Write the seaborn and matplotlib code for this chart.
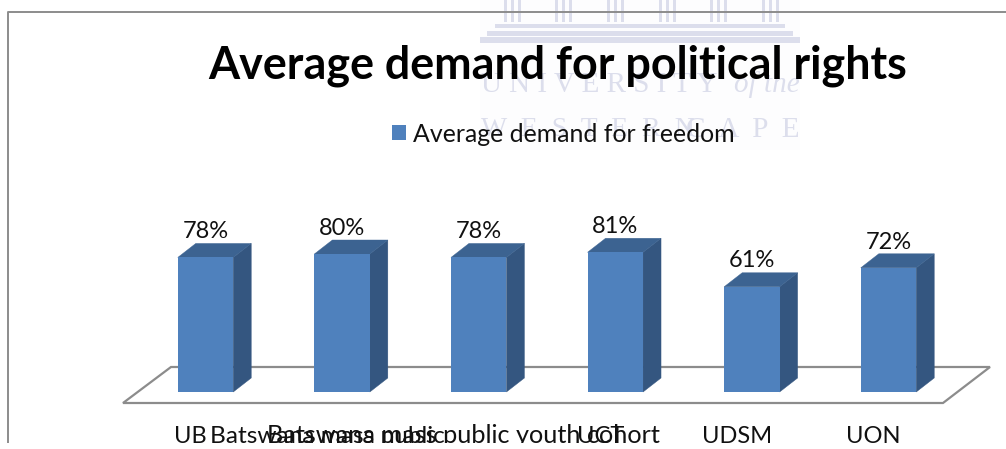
import matplotlib
matplotlib.use("Agg")
import matplotlib.pyplot as plt
import seaborn as sns
from matplotlib.patches import Polygon, Rectangle
from matplotlib.lines import Line2D
from matplotlib.transforms import Affine2D, IdentityTransform, ScaledTranslation

categories = ["UB", "Batswana mass public", "Batswana mass public youth cohort", "UCT", "UDSM", "UON"]
values = [78, 80, 78, 81, 61, 72]
series_name = "Average demand for freedom"
title_text = "Average demand for political rights"

W, H = 1006, 449
FRONT, SIDE, TOP = "#4f81bd", "#345680", "#3c6391"
GRID = "#8c8c8c"
WM = "#dcdeec"
TICK_SIZES = [17, 17.6, 18.2, 17, 17, 17]

sns.set_theme(style="white")
plt.rcParams["font.family"] = ["Lato", "DejaVu Sans"]

fig = plt.figure(figsize=(W / 100, H / 100), dpi=100, facecolor="white")
px = Affine2D().scale(1, -1).translate(0, H)

# axes: left edge px 8, right px 1006, baseline px 392, top px 12
ax = fig.add_axes([8 / W, (H - 392) / H, (W - 8) / W, 380 / H], facecolor="none")
ax.set_zorder(3)

# watermark
fig.add_artist(Rectangle((480, 0), 320, 150, transform=px, fc="#fdfdfe", ec="none", zorder=0))
for cx in [512, 563, 615, 667, 718, 770]:
    for d in (-7, 0, 7):
        fig.add_artist(Rectangle((cx + d - 1.5, 0), 3, 22, transform=px, fc=WM, ec="none", zorder=0.1))
for x0, x1, y0, y1 in [(495, 785, 24, 28), (487, 793, 31, 36), (480, 800, 37, 43)]:
    fig.add_artist(Rectangle((x0, y0), x1 - x0, y1 - y0, transform=px, fc=WM, ec="none", zorder=0.1))
serif = dict(transform=px, family="Liberation Serif", color=WM, va="center", ha="left", zorder=0.1)
fig.text(481, 85, "U N I V E R S I T Y", fontsize=21, **serif)
fig.text(734, 85, "of the", style="italic", fontsize=21, **serif)
fig.text(481, 130, "W  E  S  T  E  R  N", fontsize=20, **serif)
fig.text(686, 130, "C  A  P  E", fontsize=21, **serif)

# frame
fig.add_artist(Line2D([8, 8, W], [443, 12, 12], transform=px, color=GRID, lw=1.4, zorder=0.5))

# floor
ax.add_patch(Polygon([(123, 403), (171, 367), (990, 367), (943, 403)], closed=True, transform=px,
                     fc="white", ec=GRID, lw=1.6, clip_on=False, zorder=0.5))

sns.barplot(x=categories, y=values, color=FRONT, saturation=1, width=0.406, ax=ax,
            label=series_name, zorder=3, legend=False, linewidth=0)
ax.set_xlim((8 - 205.5) / 136.6, (W - 205.5) / 136.6)
ax.set_ylim(0, 380 / 1.725)
sns.despine(ax=ax, left=True, bottom=True, top=True, right=True)
ax.set_yticks([])
ax.grid(False)
ax.set_xlabel("")

# depth faces derived from the bars
fig.canvas.draw()
DX, DY = 18, 14
for b in list(ax.patches):
    if not isinstance(b, Rectangle):
        continue
    (x0, y0), (x1, y1) = ax.transData.transform([(b.get_x(), b.get_y()), (b.get_x() + b.get_width(), b.get_height())])
    ax.add_patch(Polygon([(x1, y0), (x1 + DX, y0 + DY), (x1 + DX, y1 + DY), (x1, y1)], transform=IdentityTransform(),
                         fc=SIDE, ec=SIDE, lw=0.3, zorder=2, clip_on=False))
    ax.add_patch(Polygon([(x0, y1), (x0 + DX, y1 + DY), (x1 + DX, y1 + DY), (x1, y1)], transform=IdentityTransform(),
                         fc=TOP, ec=TOP, lw=0.3, zorder=2, clip_on=False))

# value labels
for c in ax.containers:
    ax.bar_label(c, fmt="%d%%", padding=11, fontsize=17, color="#111111", zorder=5)

# category labels
ax.set_xticks(range(len(categories)))
ax.set_xticklabels(categories, fontsize=17, color="#111111", va="baseline")
ax.tick_params(axis="x", length=0, pad=37)
shift = ScaledTranslation(-15 / 100, 0, fig.dpi_scale_trans)
for t, size in zip(ax.get_xticklabels(), TICK_SIZES):
    t.set_transform(t.get_transform() + shift)
    t.set_va("baseline")
    t.set_fontsize(size)

# title and legend
fig.text(557.5, 66, title_text, transform=px, fontsize=32.3, fontweight="bold", color="black",
         ha="center", va="center", zorder=5)
handles, labels = ax.get_legend_handles_labels()
leg = ax.legend(handles, labels, loc="center left", bbox_to_anchor=(392, H - 134),
                bbox_transform=IdentityTransform(), frameon=False, fontsize=17.9, handlelength=0.56,
                handleheight=0.56, handletextpad=0.28, labelcolor="#111111", borderpad=0, borderaxespad=0)

# chart area is cut off at the bottom
fig.add_artist(Rectangle((0, 443), W, 6, transform=px, fc="white", ec="none", zorder=10))

fig.savefig("out.png", dpi=100)
